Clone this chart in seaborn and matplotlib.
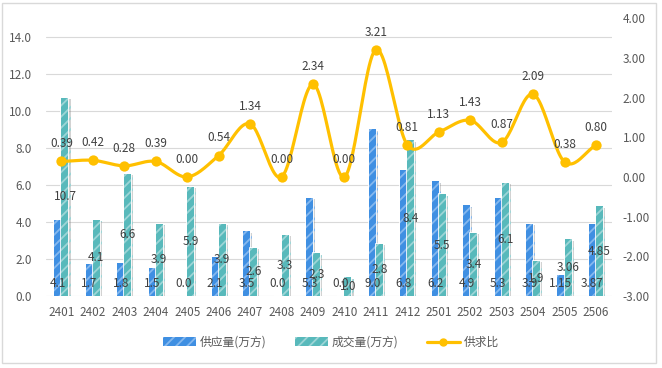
import numpy as np
import pandas as pd
import matplotlib
matplotlib.use('Agg')
import matplotlib.pyplot as plt
import matplotlib.patheffects as pe
from matplotlib.patches import Patch, Rectangle
from matplotlib.lines import Line2D
import seaborn as sns

# data
months = ['2401', '2402', '2403', '2404', '2405', '2406', '2407', '2408', '2409',
          '2410', '2411', '2412', '2501', '2502', '2503', '2504', '2505', '2506']
supply = [4.1, 1.7, 1.8, 1.5, 0.0, 2.1, 3.5, 0.0, 5.3, 0.0, 9.0, 6.8, 6.2, 4.9, 5.3, 3.9, 1.15, 3.87]
deal = [10.7, 4.1, 6.6, 3.9, 5.9, 3.9, 2.6, 3.3, 2.3, 1.0, 2.8, 8.4, 5.5, 3.4, 6.1, 1.9, 3.06, 4.85]
ratio = [0.39, 0.42, 0.28, 0.39, 0.00, 0.54, 1.34, 0.00, 2.34, 0.00, 3.21, 0.81, 1.13, 1.43, 0.87, 2.09, 0.38, 0.80]

names = ['供应量(万方)', '成交量(万方)', '供求比']

blue, blue_light = '#3F8FE2', '#85B8EE'
teal, teal_light = '#58B9BB', '#9DD5D6'
gold = '#FFC000'
text_color = '#404040'
tick_color = '#595959'

sns.set_style('white')
plt.rcParams['font.family'] = ['Noto Sans CJK SC', 'DejaVu Sans']
plt.rcParams['hatch.linewidth'] = 1.3

df = pd.DataFrame({
    'month': months * 2,
    'value': supply + deal,
    'kind': [names[0]] * len(months) + [names[1]] * len(months),
})

fig, ax = plt.subplots(figsize=(6.62, 3.68), dpi=100)
fig.subplots_adjust(left=0.069, right=0.924, top=0.95, bottom=0.196)

sns.barplot(data=df, x='month', y='value', hue='kind', palette=[blue, teal],
            width=0.45, saturation=1, legend=False, ax=ax, errorbar=None)

shadow = pe.SimplePatchShadow(offset=(1.5, -1), shadow_rgbFace='#808080', alpha=0.35)
for cont, light in zip(ax.containers, [blue_light, teal_light]):
    for p in cont.patches:
        p.set_hatch('///')
        p.set_edgecolor(light)
        p.set_linewidth(0)
        p.set_path_effects([shadow, pe.Stroke(linewidth=1.2, foreground='white'), pe.Normal()])

def fmt(v):
    return f'{v:.1f}' if round(v, 1) == v else f'{v:.2f}'

for p, v in zip(ax.containers[0].patches, supply):
    ax.text(p.get_x() + p.get_width() / 2, 0.65, fmt(v), ha='center', va='center',
            fontsize=8.5, color=text_color, zorder=5)
for p, v in zip(ax.containers[1].patches, deal):
    ax.text(p.get_x() + p.get_width() / 2, v / 2, fmt(v), ha='center', va='center',
            fontsize=8.5, color=text_color, zorder=5)

ax.set_ylim(0, 15)
ax.set_yticks(np.arange(0, 15, 2))
ax.set_yticklabels([f'{t:.1f}' for t in np.arange(0, 15, 2)])
ax.set_xlim(-0.5, len(months) - 0.5)
ax.yaxis.grid(True, color='#D9D9D9', linewidth=0.8)
ax.set_axisbelow(True)
ax.set_xlabel('')
ax.set_ylabel('')
ax.tick_params(axis='both', length=0, labelsize=8.5, labelcolor=tick_color)
ax.tick_params(axis='x', pad=7)
ax.tick_params(axis='y', pad=10)
for s in ax.spines.values():
    s.set_visible(False)

# smoothed line on the secondary axis (Excel style smooth curve)
ax2 = ax.twinx()
xp = np.arange(len(ratio), dtype=float)
yp = np.array(ratio)
tang = np.gradient(yp)
xs, ys = [], []
for i in range(len(yp) - 1):
    t = np.linspace(0, 1, 25)
    h00 = 2 * t**3 - 3 * t**2 + 1
    h10 = t**3 - 2 * t**2 + t
    h01 = -2 * t**3 + 3 * t**2
    h11 = t**3 - t**2
    xs.extend(xp[i] + t)
    ys.extend(h00 * yp[i] + h10 * tang[i] + h01 * yp[i + 1] + h11 * tang[i + 1])
sns.lineplot(x=xs, y=ys, color=gold, linewidth=2.3, ax=ax2, sort=False)
ax2.scatter(xp, yp, s=55, color=gold, zorder=5, linewidths=0)
for x, y in zip(xp, yp):
    ax2.annotate(f'{y:.2f}', (x, y), xytext=(0, 8), textcoords='offset points',
                 ha='center', va='bottom', fontsize=8.5, color=text_color)

ax2.set_ylim(-3, 4)
ax2.set_yticks(np.arange(-3, 5, 1))
ax2.set_yticklabels([f'{t:.2f}' for t in np.arange(-3, 5, 1)])
ax2.tick_params(axis='y', length=0, labelsize=8.5, labelcolor=tick_color, pad=8)
for s in ax2.spines.values():
    s.set_visible(False)

handles = [
    Patch(facecolor=blue, edgecolor=blue_light, hatch='///', linewidth=0),
    Patch(facecolor=teal, edgecolor=teal_light, hatch='///', linewidth=0),
    Line2D([], [], color=gold, linewidth=2.3, marker='o', markersize=5),
]
fig.legend(handles, names, loc='center', bbox_to_anchor=(0.5, 0.07), ncol=3,
           frameon=False, fontsize=8.5, labelcolor=tick_color, handlelength=2.8,
           handletextpad=0.3, columnspacing=2.4)

fig.patches.append(Rectangle((0.003, 0.0136), 0.988, 0.978, transform=fig.transFigure,
                             fill=False, edgecolor='#D9D9D9', linewidth=1))

fig.savefig('out.png', dpi=100)
